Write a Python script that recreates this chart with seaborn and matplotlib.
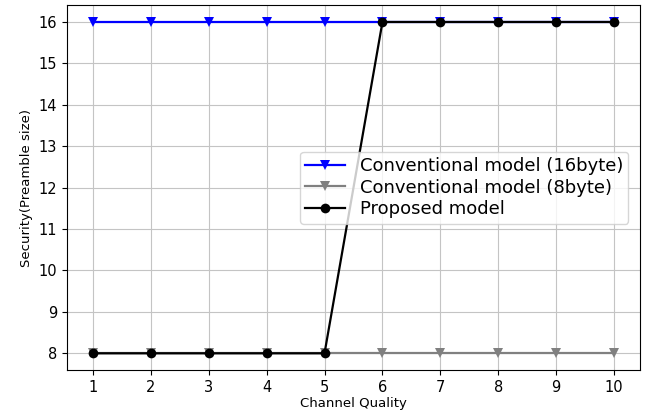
import pandas as pd
import seaborn as sns
import matplotlib
matplotlib.use('Agg')
import matplotlib.pyplot as plt

# Data
channel_quality = [1, 2, 3, 4, 5, 6, 7, 8, 9, 10]
conv_16byte = [16, 16, 16, 16, 16, 16, 16, 16, 16, 16]
conv_8byte = [8, 8, 8, 8, 8, 8, 8, 8, 8, 8]
proposed = [8, 8, 8, 8, 8, 16, 16, 16, 16, 16]

series_names = ['Conventional model (16byte)', 'Conventional model (8byte)',
                'Proposed model']

df = pd.DataFrame({'quality': channel_quality * 3,
                   'security': conv_16byte + conv_8byte + proposed,
                   'model': [series_names[0]] * 10 + [series_names[1]] * 10
                            + [series_names[2]] * 10})

plt.rcParams['font.family'] = ['DejaVu Sans']

fig = plt.figure(figsize=(6.48, 4.17), dpi=100)
ax = fig.add_axes([0.103, 0.113, 0.885, 0.874])

palette = {series_names[0]: 'blue', series_names[1]: 'gray',
           series_names[2]: 'black'}
markers = {series_names[0]: 'v', series_names[1]: 'v', series_names[2]: 'o'}

sns.lineplot(data=df, x='quality', y='security', hue='model', style='model',
             palette=palette, markers=markers, dashes=False, markersize=7,
             markeredgewidth=0, linewidth=1.6, ax=ax)

ax.set_xticks(channel_quality)
ax.set_yticks(range(8, 17))
ax.tick_params(labelsize=10.5)
ax.grid(True, color='#c4c4c4', linewidth=0.8)
ax.set_xlabel('Channel Quality', fontsize=9.5, labelpad=2)
ax.set_ylabel('Security(Preamble size)', fontsize=9.5)

ax.legend(title=None, fontsize=13, loc='center right',
          bbox_to_anchor=(0.995, 0.5), handlelength=2.2, borderpad=0.3,
          labelspacing=0.2)

fig.savefig('out.png', dpi=100)
